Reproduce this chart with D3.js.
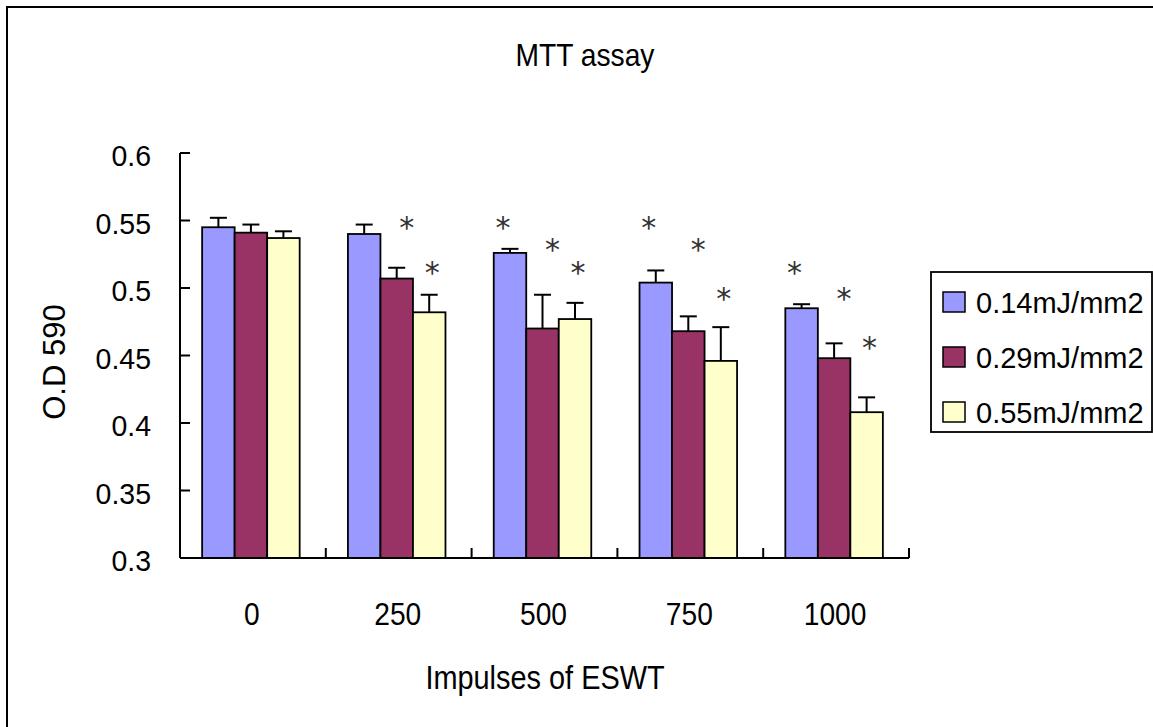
<!DOCTYPE html>
<html>
<head>
<meta charset="utf-8">
<script src="https://cdn.jsdelivr.net/npm/d3@7"></script>
<style>
  html, body { margin: 0; padding: 0; background: #fff; }
  svg { display: block; }
  text { font-family: "Liberation Sans", Arial, sans-serif; fill: #000; }
</style>
</head>
<body>
<svg id="chart" width="1153" height="727"></svg>
<script>
// ---- data ----
const categories = ["0", "250", "500", "750", "1000"];
const seriesNames = ["0.14mJ/mm2", "0.29mJ/mm2", "0.55mJ/mm2"];
const meanLow  = [0.545, 0.540, 0.526, 0.504, 0.485];
const meanMid  = [0.541, 0.507, 0.470, 0.468, 0.448];
const meanHigh = [0.537, 0.482, 0.477, 0.446, 0.408];
const errLow   = [0.007, 0.007, 0.003, 0.009, 0.003];
const errMid   = [0.006, 0.008, 0.025, 0.011, 0.011];
const errHigh  = [0.005, 0.013, 0.012, 0.025, 0.011];
const yTicks = [0.3, 0.35, 0.4, 0.45, 0.5, 0.55, 0.6];
const yTickLabels = ["0.3", "0.35", "0.4", "0.45", "0.5", "0.55", "0.6"];
// significance marks: [category, series index, level on the O.D scale]
const signif = [
  ["250", 1, 0.550], ["250", 2, 0.516],
  ["500", 0, 0.550], ["500", 1, 0.533], ["500", 2, 0.516],
  ["750", 0, 0.550], ["750", 1, 0.533], ["750", 2, 0.497],
  ["1000", 0, 0.516], ["1000", 1, 0.497], ["1000", 2, 0.461]
];
const titleText = "MTT assay";
const xTitle = "Impulses of ESWT";
const yTitle = "O.D 590";

const means = [meanLow, meanMid, meanHigh];
const errs = [errLow, errMid, errHigh];
const colors = ["#9999FF", "#993366", "#FFFFCC"];

// ---- layout ----
const svg = d3.select("#chart");
const plot = { left: 180, right: 909, top: 153, bottom: 558 };

// outer chart border (runs past the right and bottom edges)
svg.append("rect")
  .attr("x", 7).attr("y", 7).attr("width", 1170).attr("height", 740)
  .attr("fill", "#fff").attr("stroke", "#000").attr("stroke-width", 2);

const x0 = d3.scaleBand().domain(categories)
  .range([plot.left - 2, plot.right - 2]).paddingInner(0.331).paddingOuter(0.1655);
const x1 = d3.scaleBand().domain(d3.range(seriesNames.length))
  .range([0, x0.bandwidth()]);
const xCat = d3.scaleBand().domain(categories).range([plot.left, plot.right]);
const y = d3.scaleLinear().domain([0.3, 0.6]).range([plot.bottom, plot.top]);

// text helper with horizontal condensing
function label(g, txt, x, yy, size, sx, anchor, rot) {
  return g.append("text")
    .attr("transform", `translate(${x},${yy})` + (rot ? ` rotate(${rot})` : "") + ` scale(${sx},1)`)
    .attr("font-size", size)
    .attr("text-anchor", anchor || "start")
    .text(txt);
}

// bars
const groups = svg.append("g").selectAll("g")
  .data(categories).join("g")
  .attr("transform", d => `translate(${x0(d)},0)`);

groups.selectAll("rect")
  .data((c, ci) => means.map((m, si) => ({ si, v: m[ci], e: errs[si][ci] })))
  .join("rect")
  .attr("x", d => x1(d.si))
  .attr("y", d => y(d.v))
  .attr("width", x1.bandwidth())
  .attr("height", d => y(0.3) - y(d.v))
  .attr("fill", d => colors[d.si])
  .attr("stroke", "#000").attr("stroke-width", 1.8);

// error bars (upper only)
const eb = groups.selectAll("g.err")
  .data((c, ci) => means.map((m, si) => ({ si, v: m[ci], e: errs[si][ci] })))
  .join("g").attr("class", "err");
eb.append("line")
  .attr("x1", d => x1(d.si) + x1.bandwidth() / 2)
  .attr("x2", d => x1(d.si) + x1.bandwidth() / 2)
  .attr("y1", d => y(d.v)).attr("y2", d => y(d.v + d.e))
  .attr("stroke", "#000").attr("stroke-width", 2);
eb.append("line")
  .attr("x1", d => x1(d.si) + x1.bandwidth() / 2 - 8.5)
  .attr("x2", d => x1(d.si) + x1.bandwidth() / 2 + 8.5)
  .attr("y1", d => y(d.v + d.e)).attr("y2", d => y(d.v + d.e))
  .attr("stroke", "#000").attr("stroke-width", 2);

// significance asterisks
const starShift = [-7, 10, 3];
svg.append("g").selectAll("text")
  .data(signif).join("text")
  .attr("x", d => x0(d[0]) + x1(d[1]) + x1.bandwidth() / 2 + starShift[d[1]])
  .attr("y", d => y(d[2]) + 17)
  .attr("text-anchor", "middle")
  .attr("font-size", 30)
  .style("font-family", "'DejaVu Sans', sans-serif")
  .style("fill", "#333")
  .text("*");

// axes
const axes = svg.append("g");
axes.append("line")
  .attr("x1", plot.left).attr("x2", plot.left)
  .attr("y1", y(0.6)).attr("y2", y(0.3))
  .attr("stroke", "#000").attr("stroke-width", 2);
axes.append("line")
  .attr("x1", plot.left).attr("x2", plot.right)
  .attr("y1", y(0.3)).attr("y2", y(0.3))
  .attr("stroke", "#000").attr("stroke-width", 2);
axes.selectAll("line.yt").data(yTicks).join("line").attr("class", "yt")
  .attr("x1", plot.left).attr("x2", plot.left + 10)
  .attr("y1", d => y(d)).attr("y2", d => y(d))
  .attr("stroke", "#000").attr("stroke-width", 2);
axes.selectAll("line.xt").data(categories).join("line").attr("class", "xt")
  .attr("x1", d => xCat(d) + xCat.bandwidth())
  .attr("x2", d => xCat(d) + xCat.bandwidth())
  .attr("y1", y(0.3)).attr("y2", y(0.3) - 10)
  .attr("stroke", "#000").attr("stroke-width", 2);

yTicks.forEach((t, i) => label(axes, yTickLabels[i], 151, y(t) + 13, 30, 0.95, "end"));
categories.forEach(c => label(axes, c, xCat(c) + xCat.bandwidth() / 2 - 1, 625, 32, 0.88, "middle"));

// titles
label(svg, titleText, 585, 66, 31, 0.91, "middle");
label(svg, xTitle, 545, 689, 34, 0.85, "middle");
label(svg, yTitle, 65, 362, 32, 0.97, "middle", -90);

// legend
const lg = svg.append("g");
lg.append("rect").attr("x", 931).attr("y", 272).attr("width", 221).attr("height", 160)
  .attr("fill", "#fff").attr("stroke", "#000").attr("stroke-width", 1.8);
seriesNames.forEach((s, i) => {
  const rowY = 292 + i * 55;
  lg.append("rect").attr("x", 943).attr("y", rowY).attr("width", 22).attr("height", 20)
    .attr("fill", colors[i]).attr("stroke", "#000").attr("stroke-width", 1.5);
  label(lg, s, 976, rowY + 21, 29, 1.0, "start");
});
</script>
</body>
</html>
